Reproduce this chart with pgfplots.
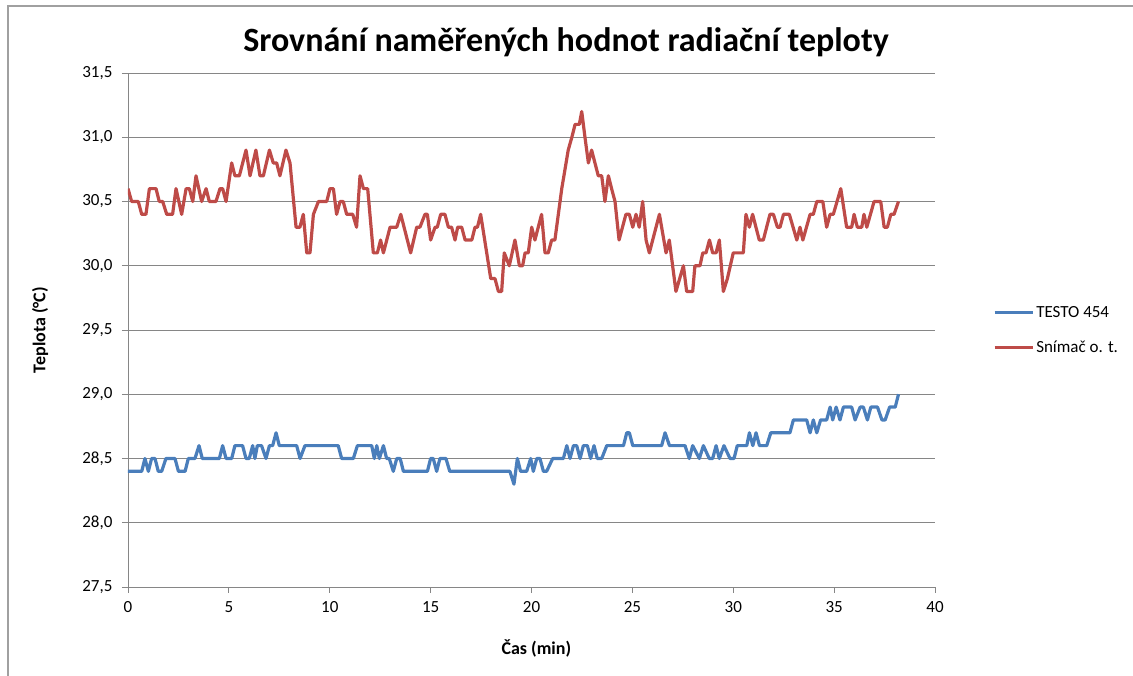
\documentclass[border=0pt]{standalone}
\usepackage{fontspec}
\setmainfont{Carlito}
\usepackage{pgfplots}
\pgfplotsset{compat=1.18}
\definecolor{xlblue}{HTML}{4A7EBB}
\definecolor{xlred}{HTML}{BE4B48}
\definecolor{xlgrid}{HTML}{868686}
\definecolor{xlframe}{HTML}{A0A0A0}

\begin{document}
\begin{tikzpicture}[x=1pt,y=1pt]
\path[use as bounding box] (-128,-89) rectangle (1005,587);
\draw[xlframe, line width=1.2pt] (-120,-89) -- (-120,581) -- (1005,581);
\begin{axis}[
  at={(0,0)}, anchor=south west,
  scale only axis, width=807pt, height=514pt,
  xmin=0, xmax=40, ymin=27.5, ymax=31.5,
  xtick={0,5,...,40}, ytick={27.5,28,...,31.5},
  axis lines*=left,
  ymajorgrids,
  grid style={xlgrid, line width=0.9pt},
  axis line style={xlgrid, line width=0.9pt},
  tick style={xlgrid, line width=0.9pt},
  tick align=outside, major tick length=6pt,
  /pgf/number format/assume math mode=true,
  yticklabel style={xshift=-6pt, /pgf/number format/.cd, fixed, fixed zerofill, precision=1, use comma},
  xticklabel style={yshift=-5pt},
  ticklabel style={font=\fontsize{17}{20}\selectfont},
  xlabel={Čas (min)}, ylabel={Teplota (°C)},
  label style={font=\fontsize{18}{21}\selectfont\bfseries},
  xlabel style={at={(rel axis cs:0.506,-0.119)}, anchor=center},
  ylabel style={at={(rel axis cs:-0.109,0.5)}, anchor=center},
  legend style={at={(rel axis cs:1.068,0.5)}, anchor=west, draw=none,
    font=\fontsize{17}{20}\selectfont, row sep=18pt},
  legend cell align=left,
  legend image code/.code={\draw[#1] (0pt,0pt) -- (38pt,0pt);},
  every axis plot/.append style={line width=3.2pt, line join=round},
]
\addplot[xlblue] coordinates {
(0,28.4)(0.68,28.4)(0.84,28.5)(1.01,28.4)(1.17,28.5)(1.34,28.5)(1.5,28.4)(1.67,28.4)
(1.88,28.5)(2.33,28.5)(2.5,28.4)(2.83,28.4)(2.99,28.5)(3.32,28.5)(3.52,28.6)(3.68,28.5)
(4.53,28.5)(4.69,28.6)(4.86,28.5)(5.14,28.5)(5.3,28.6)(5.68,28.6)(5.85,28.5)(6.01,28.5)
(6.18,28.6)(6.29,28.5)(6.41,28.6)(6.62,28.6)(6.84,28.5)(7.01,28.6)(7.17,28.6)(7.34,28.7)
(7.5,28.6)(8.36,28.6)(8.53,28.5)(8.77,28.6)(10.42,28.6)(10.59,28.5)(11.17,28.5)(11.37,28.6)
(12.08,28.6)(12.21,28.5)(12.33,28.6)(12.46,28.5)(12.66,28.6)(12.82,28.5)(12.95,28.5)(13.15,28.4)
(13.32,28.5)(13.49,28.5)(13.65,28.4)(14.84,28.4)(15.0,28.5)(15.13,28.5)(15.3,28.4)(15.46,28.5)
(15.76,28.5)(15.95,28.4)(18.93,28.4)(19.13,28.3)(19.3,28.5)(19.46,28.4)(19.76,28.4)(19.96,28.5)
(20.09,28.4)(20.26,28.5)(20.42,28.5)(20.59,28.4)(20.75,28.4)(21.05,28.5)(21.58,28.5)(21.75,28.6)
(21.91,28.5)(22.08,28.6)(22.24,28.6)(22.41,28.5)(22.57,28.6)(22.77,28.6)(22.93,28.5)(23.1,28.6)
(23.26,28.5)(23.48,28.5)(23.73,28.6)(24.56,28.6)(24.72,28.7)(24.85,28.7)(25.02,28.6)(26.45,28.6)
(26.62,28.7)(26.84,28.6)(27.61,28.6)(27.82,28.5)(27.99,28.6)(28.32,28.5)(28.52,28.6)(28.81,28.5)
(28.98,28.5)(29.15,28.6)(29.31,28.5)(29.54,28.6)(29.84,28.5)(30.04,28.5)(30.2,28.6)(30.67,28.6)
(30.8,28.7)(30.97,28.6)(31.13,28.7)(31.3,28.6)(31.66,28.6)(31.86,28.7)(32.81,28.7)(32.98,28.8)
(33.64,28.8)(33.81,28.7)(33.97,28.8)(34.14,28.7)(34.33,28.8)(34.63,28.8)(34.8,28.9)(34.93,28.8)
(35.1,28.9)(35.29,28.8)(35.46,28.9)(35.87,28.9)(36.04,28.8)(36.29,28.9)(36.45,28.9)(36.65,28.8)
(36.82,28.9)(37.15,28.9)(37.37,28.8)(37.53,28.8)(37.75,28.9)(38.03,28.9)(38.19,29.0)
};
\addlegendentry{TESTO 454}
\addplot[xlred] coordinates {
(0,30.6)(0.18,30.5)(0.51,30.5)(0.68,30.4)(0.89,30.4)(1.06,30.6)(1.39,30.6)(1.55,30.5)
(1.72,30.5)(1.92,30.4)(2.21,30.4)(2.38,30.6)(2.66,30.4)(2.88,30.6)(3.04,30.6)(3.21,30.5)
(3.37,30.7)(3.65,30.5)(3.87,30.6)(4.03,30.5)(4.36,30.5)(4.56,30.6)(4.69,30.6)(4.86,30.5)
(5.14,30.8)(5.30,30.7)(5.52,30.7)(5.85,30.9)(6.05,30.7)(6.34,30.9)(6.54,30.7)(6.71,30.7)
(7.01,30.9)(7.20,30.8)(7.37,30.8)(7.53,30.7)(7.83,30.9)(8.03,30.8)(8.33,30.3)(8.52,30.3)
(8.69,30.4)(8.86,30.1)(9.02,30.1)(9.19,30.4)(9.44,30.5)(9.85,30.5)(10.01,30.6)(10.18,30.6)
(10.34,30.4)(10.51,30.5)(10.67,30.5)(10.84,30.4)(11.14,30.4)(11.33,30.3)(11.50,30.7)(11.67,30.6)
(11.88,30.6)(12.16,30.1)(12.36,30.1)(12.52,30.2)(12.66,30.1)(12.99,30.3)(13.32,30.3)(13.52,30.4)
(14.01,30.1)(14.31,30.3)(14.47,30.3)(14.72,30.4)(14.84,30.4)(15.00,30.2)(15.22,30.3)(15.33,30.3)
(15.50,30.4)(15.71,30.4)(15.88,30.3)(16.04,30.3)(16.21,30.2)(16.34,30.3)(16.54,30.3)(16.71,30.2)
(17.04,30.2)(17.20,30.3)(17.32,30.3)(17.48,30.4)(17.78,30.1)(17.98,29.9)(18.19,29.9)(18.36,29.8)
(18.52,29.8)(18.65,30.1)(18.90,30.0)(19.18,30.2)(19.40,30.0)(19.56,30.0)(19.68,30.1)(19.84,30.1)
(20.01,30.3)(20.17,30.2)(20.50,30.4)(20.67,30.1)(20.83,30.1)(21.00,30.2)(21.16,30.2)(21.50,30.6)
(21.82,30.9)(22.00,31.0)(22.16,31.1)(22.37,31.1)(22.49,31.2)(22.65,31.0)(22.82,30.8)(22.98,30.9)
(23.31,30.7)(23.48,30.7)(23.64,30.5)(23.81,30.7)(23.97,30.6)(24.14,30.5)(24.34,30.2)(24.68,30.4)
(24.85,30.4)(25.02,30.3)(25.18,30.4)(25.34,30.3)(25.51,30.5)(25.68,30.2)(25.84,30.1)(26.34,30.4)
(26.67,30.1)(26.83,30.2)(27.16,29.8)(27.53,30.0)(27.69,29.8)(27.99,29.8)(28.10,30.0)(28.35,30.0)
(28.49,30.1)(28.65,30.1)(28.82,30.2)(28.98,30.1)(29.15,30.1)(29.31,30.2)(29.51,29.8)(29.71,29.9)
(30.00,30.1)(30.50,30.1)(30.63,30.4)(30.80,30.3)(30.96,30.4)(31.29,30.2)(31.49,30.2)(31.82,30.4)
(31.99,30.4)(32.19,30.3)(32.32,30.3)(32.49,30.4)(32.78,30.4)(33.15,30.2)(33.31,30.3)(33.45,30.2)
(33.81,30.4)(33.97,30.4)(34.14,30.5)(34.44,30.5)(34.63,30.3)(34.80,30.4)(34.96,30.4)(35.33,30.6)
(35.62,30.3)(35.87,30.3)(35.99,30.4)(36.15,30.3)(36.37,30.3)(36.48,30.4)(36.62,30.3)(36.98,30.5)
(37.31,30.5)(37.48,30.3)(37.64,30.3)(37.81,30.4)(37.97,30.4)(38.19,30.5)
};
\addlegendentry{Snímač o. t.}
\end{axis}
\node[font=\fontsize{34}{40}\selectfont\bfseries] at (438,545) {Srovnání naměřených hodnot radiační teploty};
\end{tikzpicture}
\end{document}
